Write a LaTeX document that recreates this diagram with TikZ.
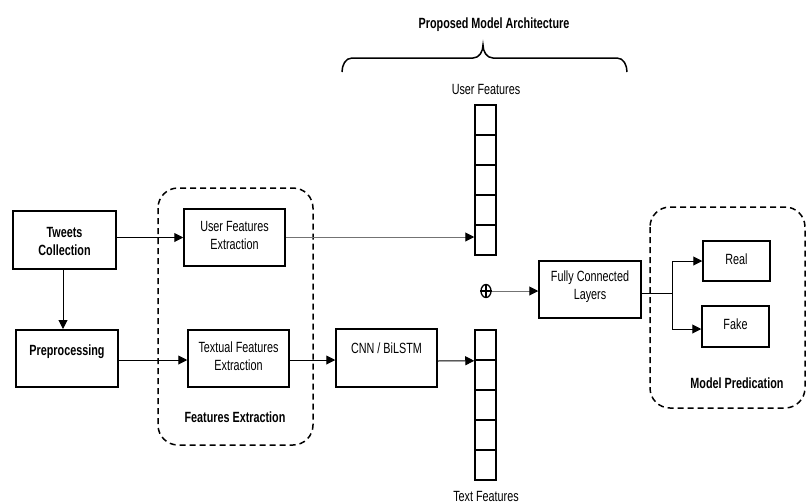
\documentclass[tikz,border=0pt]{standalone}
\usepackage{fontspec}
\setmainfont{Liberation Sans}[FakeStretch=0.73]
\usetikzlibrary{arrows.meta,shapes.geometric}
\begin{document}
\begin{tikzpicture}[x=1pt,y=-1pt,
  box/.style={draw=black,line width=1.5pt,inner sep=0pt,minimum width=#1},
  thickbox/.style={draw=black,line width=2pt,inner sep=0pt},
  txt/.style={font=\fontsize{14.8}{18}\selectfont,align=center,inner sep=0pt},
  btxt/.style={font=\fontsize{14.8}{18}\selectfont\bfseries,align=center,inner sep=0pt},
  arr/.style={line width=1pt,-{Triangle[length=9pt,width=9pt]}},
  garr/.style={line width=1pt,draw=black!55,-{Triangle[length=9pt,width=9pt,color=black]}},
  cell/.style={draw=black,line width=1.5pt,minimum width=21pt,minimum height=30pt,inner sep=0pt},
  dbox/.style={draw=black,line width=1.5pt,dash pattern=on 6pt off 4pt,rounded corners=20pt}
]
\useasboundingbox (0,0) rectangle (807,504);
\fill[white] (0,0) rectangle (807,504);

% dashed groups
\draw[dbox] (158,188) rectangle (313,445);
\draw[dbox] (650,207) rectangle (805,408);

% left boxes
\node[thickbox,minimum width=103pt,minimum height=58pt] (tc) at (64.5,240) {};
\node[btxt] (tct) at (64.5,241.5) {Tweets\\Collection};
\node[thickbox,minimum width=102pt,minimum height=57pt] (pp) at (67,358.5) {};
\node[btxt] (ppt) at (67,352) {Preprocessing};

\node[box=101pt,minimum height=57pt] (ufe) at (234.5,237.5) {};
\node[txt] (ufet) at (234.5,235.5) {User Features\\Extraction};
\node[box=101pt,minimum height=57pt] (tfe) at (238.5,358.5) {};
\node[txt] (tfet) at (238.5,356) {Textual Features\\Extraction};
\node[btxt] (fel) at (235,417) {Features Extraction};

\node[box=101pt,minimum height=58pt] (cnn) at (386.5,358) {};
\node[txt] (cnnt) at (386.5,348) {CNN / BiLSTM};

% vectors
\foreach \i/\y in {1/120,2/150,3/180,4/210,5/240}{
  \node[cell] (uv\i) at (485.5,\y) {};
}
\foreach \i/\y in {1/345,2/375,3/405,4/435,5/465}{
  \node[cell] (tv\i) at (485.5,\y) {};
}
\node[txt] (ufl) at (486,89) {User Features};
\node[txt] (tfl) at (486,496) {Text Features};

% title and brace
\node[btxt] (title) at (494,25) {Proposed Model Architecture};
\draw[line width=1.5pt] (342,72) to[out=90,in=180] (352,58) -- (473,58)
  to[out=0,in=-90] (483,45) to[out=-90,in=180] (493,58) -- (617,58)
  to[out=0,in=90] (627,72);

% oplus
\node[draw=black,line width=1.3pt,ellipse,minimum width=10pt,minimum height=13pt,inner sep=0pt] (op) at (486,291) {};
\draw[line width=1.3pt] (op.north) -- (op.south) (op.west) -- (op.east);

% fully connected
\node[box=102pt,minimum height=57pt] (fc) at (590,289.5) {};
\node[txt] (fct) at (590,287) {Fully Connected\\Layers};

% outputs
\node[box=67pt,minimum height=40pt] (real) at (736.5,261) {};
\node[txt] (realt) at (736.5,259) {Real};
\node[box=67pt,minimum height=41pt] (fake) at (735.5,326.5) {};
\node[txt] (faket) at (735.5,324) {Fake};
\node[btxt] (mpl) at (737,383) {Model Predication};

% connectors
\draw[arr] (tc.east |- ufe.west) -- (ufe.west);
\draw[arr] (tc.south -| 63,0) -- (63,0 |- pp.north);
\draw[arr] (pp.east |- 0,360) -- (tfe.west |- 0,360);
\draw[arr] (tfe.east |- 0,360) -- (cnn.west |- 0,360);
\draw[arr] (cnn.east |- 0,361) -- (tv1.south west);
\draw[garr] (ufe.east |- 0,237) -- (uv5.west |- 0,237);
\draw[garr] (op.east) -- (fc.west |- op.east);
\coordinate (fork) at (672,293);
\draw[line width=1pt] (fc.east |- fork) -- (fork);
\draw[arr] (fork) |- (real.west);
\draw[arr] (fork) |- (fake.west |- 0,329);
\end{tikzpicture}
\end{document}
